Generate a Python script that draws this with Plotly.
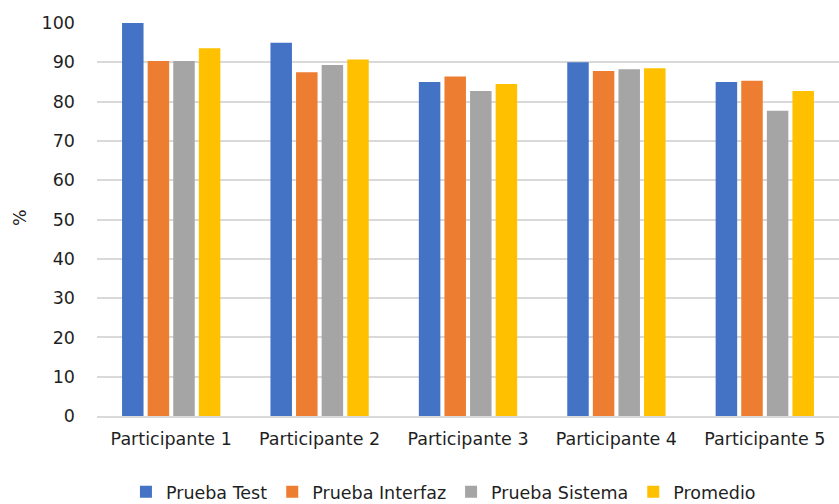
import plotly.graph_objects as go

participantes = ["Participante 1", "Participante 2", "Participante 3", "Participante 4", "Participante 5"]
prueba_test = [100, 95, 85, 90, 85]
prueba_interfaz = [90.3, 87.5, 86.4, 87.8, 85.3]
prueba_sistema = [90.3, 89.3, 82.7, 88.2, 77.7]
promedio = [93.6, 90.7, 84.5, 88.5, 82.7]

series = [
    ("Prueba Test", prueba_test, "#4472C4"),
    ("Prueba Interfaz", prueba_interfaz, "#ED7D31"),
    ("Prueba Sistema", prueba_sistema, "#A5A5A5"),
    ("Promedio", promedio, "#FFC000"),
]

font_family = "DejaVu Sans, Verdana, sans-serif"
text_color = "#1f1f1f"
fs = 17.5

fig = go.Figure()
for name, vals, color in series:
    fig.add_trace(go.Bar(
        x=participantes, y=vals, name=name,
        marker=dict(color=color, line=dict(width=0)),
    ))

fig.update_layout(
    width=839, height=504,
    margin=dict(l=97, r=0, t=23, b=88, autoexpand=False),
    paper_bgcolor="white", plot_bgcolor="white",
    barmode="group", bargap=0.31, bargroupgap=0.16,
    font=dict(family=font_family, size=fs, color=text_color),
    showlegend=True,
    legend=dict(
        orientation="h", x=0.039, xanchor="left", y=-0.193, yanchor="middle",
        font=dict(size=fs, color=text_color), itemwidth=30,
        traceorder="normal",
    ),
    xaxis=dict(
        automargin=False,
        showgrid=False, showline=True, linecolor="#d9d9d9", linewidth=1.5,
        ticks="", ticklabelstandoff=6, tickfont=dict(size=fs),
    ),
    yaxis=dict(
        automargin=False,
        range=[0, 100], dtick=10, showgrid=True, gridcolor="#d9d9d9", gridwidth=1.5,
        zeroline=False, showline=False, ticks="", ticklabelstandoff=21,
        tickfont=dict(size=fs),
    ),
    annotations=[dict(
        text="%", textangle=-90, showarrow=False,
        xref="paper", yref="paper", x=(20 - 97) / 742, y=(416 - 218) / 393,
        xanchor="center", yanchor="middle", font=dict(size=fs, color=text_color),
    )],
)

fig.write_html("out.html")
